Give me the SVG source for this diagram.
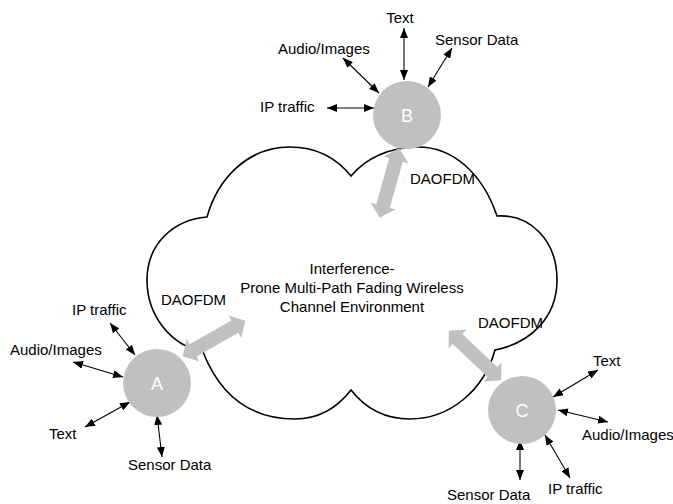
<svg xmlns="http://www.w3.org/2000/svg" xmlns:xlink="http://www.w3.org/1999/xlink" width="673" height="504" viewBox="0 0 673 504">
<style>
text{font-family:"Liberation Sans",Arial,sans-serif;font-size:15px;fill:#000}
.lbl{text-anchor:middle}
.node circle{fill:#c0c0c0}
.node text{fill:#fff;font-size:18px;text-anchor:middle}
.link{stroke:#000;stroke-width:1.1;fill:none;marker-start:url(#ah);marker-end:url(#ah)}
.cloud{fill:#fff;stroke:#000;stroke-width:1.6;stroke-linejoin:miter}
.big{fill:#c0c0c0}
</style>
<defs>
<marker id="ah" viewBox="0 0 10 8" refX="10" refY="4" markerWidth="10" markerHeight="8" markerUnits="userSpaceOnUse" orient="auto-start-reverse">
<path d="M0,0 L10,4 L0,8 z" fill="#000"/>
</marker>
<polygon id="dbl" points="-36,0 -24,-13 -24,-7 24,-7 24,-13 36,0 24,13 24,7 -24,7 -24,13"/>
</defs>
<rect width="673" height="504" fill="#fff"/>
<g id="cloud">
<path class="cloud" d="M207,217 C218,178 248,147 290,147 C318,147 338,160 351,176 C366,158 390,147 418,147 C452,147 482,172 497,216 C530,214 557,240 557,280 C557,318 530,343 495,350 C484,390 450,419 410,419 C385,419 365,408 351,390 C337,408 318,419 295,419 C250,419 220,395 203,352 C170,345 147,315 147,280 C147,245 172,220 207,217 Z"/>
<text class="lbl" x="352" y="274">Interference-</text>
<text class="lbl" x="352" y="293">Prone Multi-Path Fading Wireless</text>
<text class="lbl" x="352" y="312">Channel Environment</text>
</g>
<g id="links">
<use xlink:href="#dbl" class="big" transform="translate(389.5,183) rotate(-74.4)"/>
<use xlink:href="#dbl" class="big" transform="translate(214,338.5) rotate(-29.4)"/>
<use xlink:href="#dbl" class="big" transform="translate(475,355.5) rotate(43.4)"/>
<line class="link" x1="404" y1="28" x2="404" y2="80"/>
<line class="link" x1="343" y1="58" x2="379" y2="93"/>
<line class="link" x1="452" y1="48" x2="428" y2="87"/>
<line class="link" x1="327" y1="108" x2="374" y2="108"/>
<line class="link" x1="110" y1="323" x2="135" y2="355"/>
<line class="link" x1="73" y1="362" x2="123" y2="377"/>
<line class="link" x1="85" y1="427" x2="130" y2="402"/>
<line class="link" x1="157" y1="415" x2="162" y2="457"/>
<line class="link" x1="598" y1="370" x2="553" y2="397"/>
<line class="link" x1="558" y1="410" x2="608" y2="422"/>
<line class="link" x1="545" y1="435" x2="570" y2="478"/>
<line class="link" x1="520" y1="440" x2="520" y2="480"/>
</g>
<g id="labels">
<text x="410" y="184">DAOFDM</text>
<text x="161" y="305">DAOFDM</text>
<text x="478" y="328">DAOFDM</text>
<text class="lbl" x="400" y="23">Text</text>
<text x="278" y="54">Audio/Images</text>
<text x="435" y="45">Sensor Data</text>
<text x="260" y="112">IP traffic</text>
<text x="72" y="315">IP traffic</text>
<text x="10" y="355">Audio/Images</text>
<text x="49" y="439">Text</text>
<text x="128" y="470">Sensor Data</text>
<text x="593" y="366">Text</text>
<text x="582" y="440">Audio/Images</text>
<text x="548" y="494">IP traffic</text>
<text x="447" y="500">Sensor Data</text>
</g>
<g id="nodeB" class="node"><circle cx="407" cy="115" r="34"/><text x="407" y="122">B</text></g>
<g id="nodeA" class="node"><circle cx="157" cy="383" r="34"/><text x="157" y="390">A</text></g>
<g id="nodeC" class="node"><circle cx="522" cy="410" r="34"/><text x="522" y="417">C</text></g>
</svg>
